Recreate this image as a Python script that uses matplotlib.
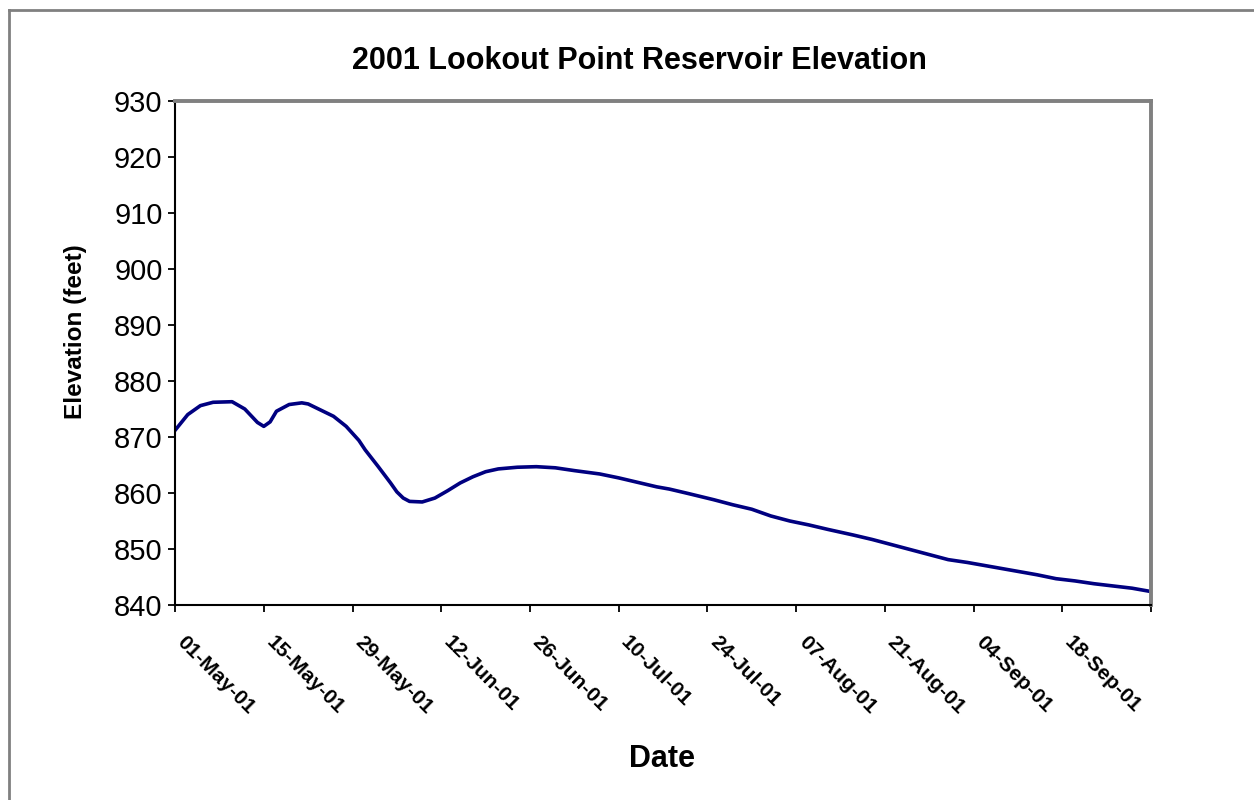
"""Lookout Point reservoir elevation, 2001."""

import matplotlib
matplotlib.use("Agg")
import matplotlib.pyplot as plt
import matplotlib.dates as mdates
from matplotlib.lines import Line2D
from matplotlib.transforms import ScaledTranslation
import pandas as pd

plt.rcParams["font.family"] = ["Liberation Sans", "DejaVu Sans"]

TITLE = "2001 Lookout Point Reservoir Elevation"

# Roughly every 2-3 days.
dates = [
    "2001-05-01", "2001-05-03", "2001-05-05", "2001-05-07", "2001-05-10",
    "2001-05-12", "2001-05-14", "2001-05-15", "2001-05-16", "2001-05-17",
    "2001-05-19", "2001-05-21", "2001-05-22", "2001-05-24", "2001-05-26",
    "2001-05-28", "2001-05-30", "2001-05-31", "2001-06-02", "2001-06-04",
    "2001-06-05", "2001-06-06", "2001-06-07", "2001-06-09", "2001-06-11",
    "2001-06-13", "2001-06-15", "2001-06-17", "2001-06-19", "2001-06-21",
    "2001-06-24", "2001-06-27", "2001-06-30", "2001-07-03", "2001-07-05",
    "2001-07-07", "2001-07-10", "2001-07-13", "2001-07-16", "2001-07-18",
    "2001-07-21", "2001-07-25", "2001-07-28", "2001-07-31", "2001-08-03",
    "2001-08-06", "2001-08-09", "2001-08-12", "2001-08-16", "2001-08-19",
    "2001-08-23", "2001-08-26", "2001-08-29", "2001-08-31", "2001-09-03",
    "2001-09-07", "2001-09-10", "2001-09-14", "2001-09-17", "2001-09-20",
    "2001-09-23", "2001-09-26", "2001-09-29", "2001-10-02",
]
elevation = [
    871.2, 874.0, 875.6, 876.2, 876.3,
    875.0, 872.6, 871.9, 872.7, 874.6,
    875.8, 876.1, 875.9, 874.8, 873.7,
    871.9, 869.4, 867.7, 864.8, 861.8,
    860.2, 859.1, 858.5, 858.4, 859.1,
    860.4, 861.8, 862.9, 863.8, 864.3,
    864.6, 864.7, 864.5, 864.0, 863.7,
    863.4, 862.7, 861.9, 861.1, 860.7,
    859.9, 858.8, 857.9, 857.1, 855.9,
    855.0, 854.3, 853.5, 852.5, 851.7,
    850.5, 849.6, 848.7, 848.1, 847.6,
    846.8, 846.2, 845.4, 844.7, 844.3,
    843.8, 843.4, 843.0, 842.4,
]

tick_dates = pd.date_range("2001-05-01", "2001-10-02", freq="14D")


def main() -> None:
    x = pd.to_datetime(dates)

    fig = plt.figure(figsize=(12.54, 8), dpi=100)
    ax = fig.add_axes([0.1396, 0.24375, 0.7783, 0.63])

    ax.plot(x, elevation, color="#000080", linewidth=2.6, solid_joinstyle="round")

    ax.set_xlim(pd.Timestamp("2001-05-01"), pd.Timestamp("2001-10-02"))
    ax.set_ylim(840, 930)
    ax.set_yticks(range(840, 931, 10))

    # Labels only up to 18-Sep, the last tick sits at the right edge.
    ax.set_xticks(tick_dates)
    ax.xaxis.set_major_formatter(mdates.DateFormatter("%d-%b-%y"))
    labels = [d.strftime("%d-%b-%y") for d in tick_dates]
    labels[-1] = ""
    ax.set_xticklabels(labels)

    ax.tick_params(axis="x", direction="out", length=5, width=1.3, pad=14.5)
    ax.tick_params(axis="y", direction="out", length=5, width=1.3, pad=4, labelsize=21)

    shift = ScaledTranslation(12 / 100, 0, fig.dpi_scale_trans)
    for lab in ax.get_xticklabels():
        lab.set_rotation(-45)
        lab.set_ha("left")
        lab.set_va("top")
        lab.set_rotation_mode("anchor")
        lab.set_fontsize(15)
        lab.set_fontweight("bold")
        lab.set_transform(lab.get_transform() + shift)

    for side in ("left", "bottom"):
        ax.spines[side].set_color("black")
        ax.spines[side].set_linewidth(1.5)
    for side in ("top", "right"):
        ax.spines[side].set_color("#808080")
        ax.spines[side].set_linewidth(2.8)

    ax.set_ylabel("Elevation (feet)", fontsize=17.5, fontweight="bold")
    ax.yaxis.set_label_coords(-0.09, 0.542)

    fig.text(0.5096, 0.924, TITLE, ha="center", va="center",
             fontsize=22, fontweight="bold")
    fig.text(0.528, 0.0513, "Date", ha="center", va="center",
             fontsize=22, fontweight="bold")

    # Chart area frame, cut off at the right and bottom.
    fig.add_artist(Line2D([9 / 1254, 9 / 1254], [0, 1 - 10 / 800],
                          transform=fig.transFigure, color="#808080", linewidth=2))
    fig.add_artist(Line2D([9 / 1254, 1], [1 - 10 / 800, 1 - 10 / 800],
                          transform=fig.transFigure, color="#808080", linewidth=2))

    fig.savefig("out.png", dpi=100)
    plt.close(fig)


if __name__ == "__main__":
    main()
